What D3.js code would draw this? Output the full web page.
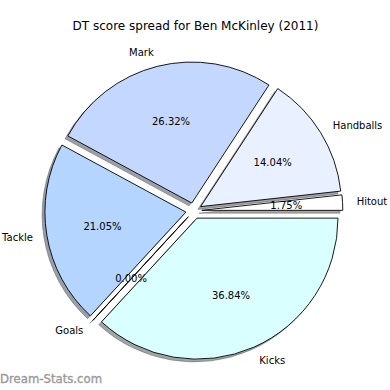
<!DOCTYPE html>
<html>
<head>
<meta charset="utf-8">
<script src="https://cdn.jsdelivr.net/npm/d3@7"></script>
<style>
html,body{margin:0;padding:0;background:#fff;}
svg{display:block;}
</style>
</head>
<body>
<svg id="chart" width="390" height="390"></svg>
<script>
const categories = ["Hitout", "Handballs", "Mark", "Tackle", "Goals", "Kicks"];
const counts = [1, 8, 15, 12, 0, 21];
const percentLabels = ["1.75%", "14.04%", "26.32%", "21.05%", "0.00%", "36.84%"];
const colors = ["#ffffff", "#e9f0ff", "#c4d8ff", "#b4d5ff", "#c8e4ff", "#d9ffff"];
const titleText = "DT score spread for Ben McKinley (2011)";
const watermark = "Dream-Stats.com";

const svg = d3.select("#chart");
const W = 390, H = 390;
const cx = 193.8, cy = 210.8, R = 141, explode = 8;
const font = "DejaVu Sans, sans-serif";

svg.append("rect").attr("width", W).attr("height", H).attr("fill", "#fff");

// counterclockwise from east (d3 angle PI/2 going down)
const pie = d3.pie().sort(null).value(d => d.v)
  .startAngle(Math.PI / 2).endAngle(Math.PI / 2 - 2 * Math.PI);
const data = categories.map((c, i) => ({ c, v: counts[i], p: percentLabels[i], col: colors[i] }));
const arcs = pie(data);
const arc = d3.arc().innerRadius(0).outerRadius(R);

function dirOf(a) { // a: d3 angle (clockwise from 12 o'clock)
  return [Math.sin(a), -Math.cos(a)];
}
arcs.forEach(d => {
  const mid = (d.startAngle + d.endAngle) / 2;
  const [dx, dy] = dirOf(mid);
  d.dx = dx; d.dy = dy;
  d.ox = cx + dx * explode; d.oy = cy + dy * explode;
});

function shade(c) {
  const k = d3.rgb(c);
  return d3.rgb(k.r * 0.3, k.g * 0.3, k.b * 0.3).toString();
}

// shadows
const shOff = 2.8;
svg.append("g").selectAll("path").data(arcs).join("path")
  .attr("transform", d => `translate(${d.ox - shOff},${d.oy + shOff})`)
  .attr("d", arc)
  .attr("fill", d => shade(d.data.col))
  .attr("fill-opacity", 0.5)
  .attr("stroke", d => shade(d.data.col))
  .attr("stroke-opacity", 0.5)
  .attr("stroke-width", 0.8);

// wedges
svg.append("g").selectAll("path").data(arcs).join("path")
  .attr("transform", d => `translate(${d.ox},${d.oy})`)
  .attr("d", arc)
  .attr("fill", d => d.data.col)
  .attr("stroke", "#000")
  .attr("stroke-width", 0.9)
  .attr("stroke-linejoin", "round");

// category labels
svg.append("g").selectAll("text").data(arcs).join("text")
  .attr("x", d => d.ox + d.dx * 1.1 * R)
  .attr("y", d => d.oy + d.dy * 1.1 * R)
  .attr("text-anchor", d => d.dx > 0 ? "start" : "end")
  .attr("dominant-baseline", "central")
  .attr("font-family", font)
  .attr("font-size", 10)
  .attr("fill", "#000")
  .text(d => d.data.c);

// percent labels
svg.append("g").selectAll("text").data(arcs).join("text")
  .attr("x", d => d.ox + d.dx * 0.6 * R)
  .attr("y", d => d.oy + d.dy * 0.6 * R)
  .attr("text-anchor", "middle")
  .attr("dominant-baseline", "central")
  .attr("font-family", font)
  .attr("font-size", 10)
  .attr("fill", "#000")
  .text(d => d.data.p);

// title
svg.append("text")
  .attr("x", 195.5).attr("y", 26)
  .attr("text-anchor", "middle")
  .attr("dominant-baseline", "central")
  .attr("font-family", font)
  .attr("font-size", 12)
  .attr("fill", "#000")
  .text(titleText);

// watermark
svg.append("text")
  .attr("x", 0).attr("y", 382.5)
  .attr("font-family", font)
  .attr("font-size", 11.7)
  .attr("fill", "#9a9a9a")
  .attr("stroke", "#9a9a9a")
  .attr("stroke-width", 0.35)
  .text(watermark);
</script>
</body>
</html>
